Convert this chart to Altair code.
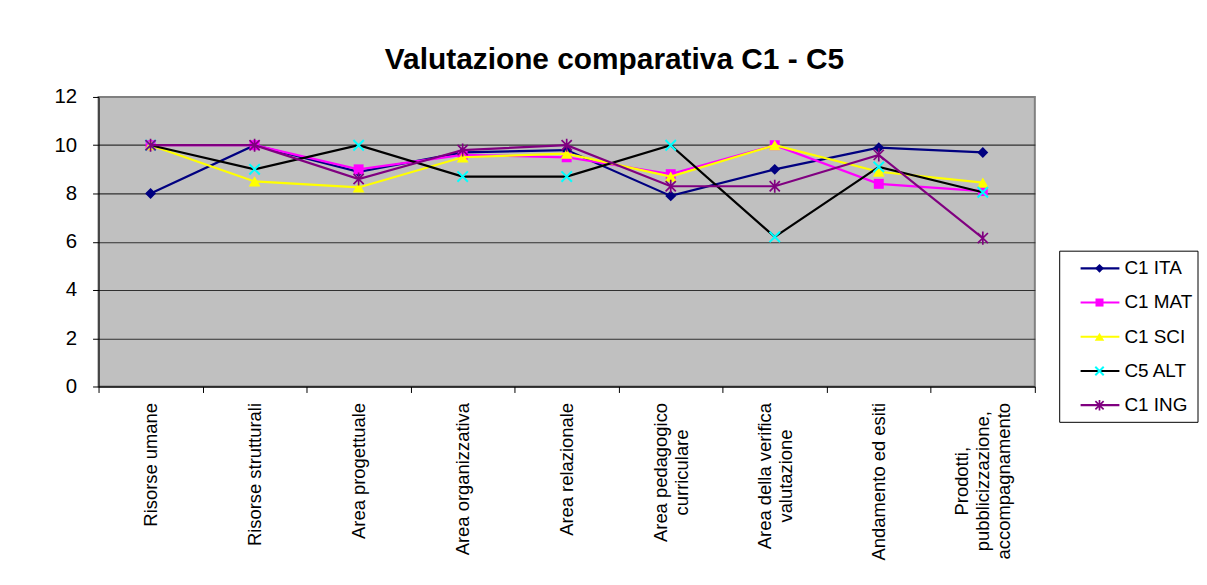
import json
import altair as alt
import pandas as pd

# ---------------- data ----------------
categories = [
    "Risorse umane",
    "Risorse strutturali",
    "Area progettuale",
    "Area organizzativa",
    "Area relazionale",
    "Area pedagogico\ncurriculare",
    "Area della verifica\nvalutazione",
    "Andamento ed esiti",
    "Prodotti,\npubblicizzazione,\naccompagnamento",
]
series_names = ["C1 ITA", "C1 MAT", "C1 SCI", "C5 ALT", "C1 ING"]
c1_ita = [8.0, 10.0, 8.9, 9.7, 9.8, 7.9, 9.0, 9.9, 9.7]
c1_mat = [10.0, 10.0, 9.0, 9.6, 9.5, 8.8, 10.0, 8.4, 8.1]
c1_sci = [10.0, 8.5, 8.25, 9.5, 9.65, 8.7, 10.0, 8.9, 8.45]
c5_alt = [10.0, 9.0, 10.0, 8.7, 8.7, 10.0, 6.2, 9.1, 8.05]
c1_ing = [10.0, 10.0, 8.6, 9.8, 10.0, 8.3, 8.3, 9.6, 6.15]
series_values = [c1_ita, c1_mat, c1_sci, c5_alt, c1_ing]
y_ticks = [0, 2, 4, 6, 8, 10, 12]
title_text = "Valutazione comparativa C1 - C5"

# ---------------- styles ----------------
FONT = "Liberation Sans"
line_colors = ["#000080", "#FF00FF", "#FFFF00", "#000000", "#800080"]
marker_colors = ["#000080", "#FF00FF", "#FFFF00", "#00FFFF", "#800080"]
X_PATH = "M-1,-1L1,1M-1,1L1,-1"
STAR_PATH = "M-0.9,-0.9L0.9,0.9M-0.9,0.9L0.9,-0.9M0,-1.15L0,1.15"
marker_shapes = ["diamond", "square", "triangle-up", X_PATH, STAR_PATH]
marker_filled = [True, True, True, False, False]
marker_sizes = [120, 100, 140, 110, 130]
marker_strokes = [1, 1, 1, 2, 1.7]

PLOT_W, PLOT_H = 941, 291
XLAB_SIZE = 18.5
XLAB_LH = 21
XLAB_GAP = 10

# Arial / Liberation Sans advance widths (per 1000 em) to centre multi-line labels
_W = {" ": 278, ",": 278, "A": 667, "P": 667, "R": 722,
      "a": 556, "b": 556, "c": 500, "d": 556, "e": 556, "f": 278, "g": 556,
      "h": 556, "i": 222, "j": 222, "k": 500, "l": 222, "m": 833, "n": 556,
      "o": 556, "p": 556, "q": 556, "r": 333, "s": 500, "t": 278, "u": 556,
      "v": 500, "w": 722, "x": 500, "y": 500, "z": 500}


def text_w(s):
    return sum(_W.get(ch, 556) for ch in s) / 1000 * XLAB_SIZE


pad_conditions = []
off_conditions = []
for c in categories:
    lines = c.split("\n")
    longest = max(text_w(l) for l in lines)
    test = "datum.value == " + json.dumps(c)
    pad_conditions.append({"test": test, "value": round(XLAB_GAP + longest / 2, 1)})
    off_conditions.append({"test": test, "value": -(len(lines) - 1) * XLAB_LH / 2})

rows = []
for s, vals in zip(series_names, series_values):
    for i, (c, v) in enumerate(zip(categories, vals)):
        rows.append({"series": s, "category": c, "pos": i, "value": v})
df = pd.DataFrame(rows)
legend_df = pd.DataFrame({"series": series_names, "idx": list(range(len(series_names)))})
box_df = pd.DataFrame({"y0": [-0.5], "y1": [len(series_names) - 0.5]})

stroke_scale = alt.Scale(domain=series_names, range=line_colors)
color_scale = alt.Scale(domain=series_names, range=marker_colors)
shape_scale = alt.Scale(domain=series_names, range=marker_shapes)

x_enc = alt.X(
    "category:N",
    sort=categories,
    scale=alt.Scale(type="band", paddingInner=0, paddingOuter=0),
    axis=alt.Axis(
        title=None,
        labelAngle=270,
        labelAlign="center",
        labelBaseline="middle",
        labelPadding={"condition": pad_conditions, "value": XLAB_GAP + 60},
        labelOffset={"condition": off_conditions, "value": 0},
        tickSize=6,
        tickBand="extent",
        labelExpr="split(datum.label, '\\n')",
        labelLineHeight=XLAB_LH,
        labelFontSize=XLAB_SIZE,
        labelLimit=400,
        labelOverlap=False,
        domainColor="#000000",
        tickColor="#000000",
        labelColor="#000000",
        grid=False,
    ),
)
y_enc = alt.Y(
    "value:Q",
    scale=alt.Scale(domain=[0, 12], nice=False, zero=True),
    axis=alt.Axis(
        title=None,
        values=y_ticks,
        grid=True,
        gridColor={"condition": {"test": "datum.value == 12", "value": "#808080"}, "value": "#303030"},
        gridWidth=1.2,
        gridOpacity=1,
        tickSize=6,
        labelPadding=16,
        labelFontSize=20.5,
        labelColor="#000000",
        domainColor="#000000",
        tickColor="#000000",
        minExtent=89,
        maxExtent=89,
    ),
)

main_layers = []
for i, s in enumerate(series_names):
    sub = alt.Chart(df).transform_filter(alt.datum.series == s)
    main_layers.append(
        sub.mark_line(strokeWidth=2.2).encode(
            x=x_enc,
            y=y_enc,
            stroke=alt.Stroke("series:N", scale=stroke_scale, legend=None),
            order=alt.Order("pos:Q"),
        )
    )
    main_layers.append(
        sub.mark_point(
            filled=marker_filled[i],
            size=marker_sizes[i],
            strokeWidth=marker_strokes[i],
            opacity=1,
        ).encode(
            x=x_enc,
            y=y_enc,
            color=alt.Color("series:N", scale=color_scale, legend=None),
            shape=alt.Shape("series:N", scale=shape_scale, legend=None),
        )
    )
main = alt.layer(*main_layers)

# ---------------- legend ----------------
leg_scale = alt.Scale(domain=[-0.5, len(series_names) - 0.5], range=[155, 327])
leg_y = alt.Y("idx:Q", scale=leg_scale, axis=None)
box = alt.Chart(box_df).mark_rect(fill="white", stroke="black", strokeWidth=1).encode(
    x=alt.value(966),
    x2=alt.value(1105),
    y=alt.Y("y0:Q", scale=leg_scale, axis=None),
    y2="y1:Q",
)
legend_layers = [box]
for i, s in enumerate(series_names):
    sub = alt.Chart(legend_df).transform_filter(alt.datum.series == s)
    legend_layers.append(
        sub.mark_rule(strokeWidth=2.2).encode(
            x=alt.value(987),
            x2=alt.value(1026),
            y=leg_y,
            stroke=alt.Stroke("series:N", scale=stroke_scale, legend=None),
        )
    )
    legend_layers.append(
        sub.mark_point(
            filled=marker_filled[i],
            size=marker_sizes[i] * 0.65,
            strokeWidth=marker_strokes[i],
            opacity=1,
        ).encode(
            x=alt.value(1006),
            y=leg_y,
            color=alt.Color("series:N", scale=color_scale, legend=None),
            shape=alt.Shape("series:N", scale=shape_scale, legend=None),
        )
    )
legend_layers.append(
    alt.Chart(legend_df)
    .mark_text(align="left", baseline="middle", fontSize=19, font=FONT, color="black")
    .encode(x=alt.value(1031), y=leg_y, text="series:N")
)
legend = alt.layer(*legend_layers)

chart = (
    alt.layer(main, legend)
    .resolve_scale(y="independent")
    .properties(
        width=PLOT_W,
        height=PLOT_H,
        padding={"left": 2, "top": 36, "right": 0, "bottom": 5},
        title=alt.TitleParams(
            title_text,
            fontSize=30,
            fontWeight="bold",
            font=FONT,
            color="black",
            anchor="middle",
            offset=12,
            dx=48,
        ),
    )
    .configure(font=FONT, background="white")
    .configure_axis(labelFont=FONT)
    .configure_view(fill="#C0C0C0", stroke="#808080", strokeWidth=2)
)

chart.save("out.html", embed_options={"renderer": "svg", "actions": False})
